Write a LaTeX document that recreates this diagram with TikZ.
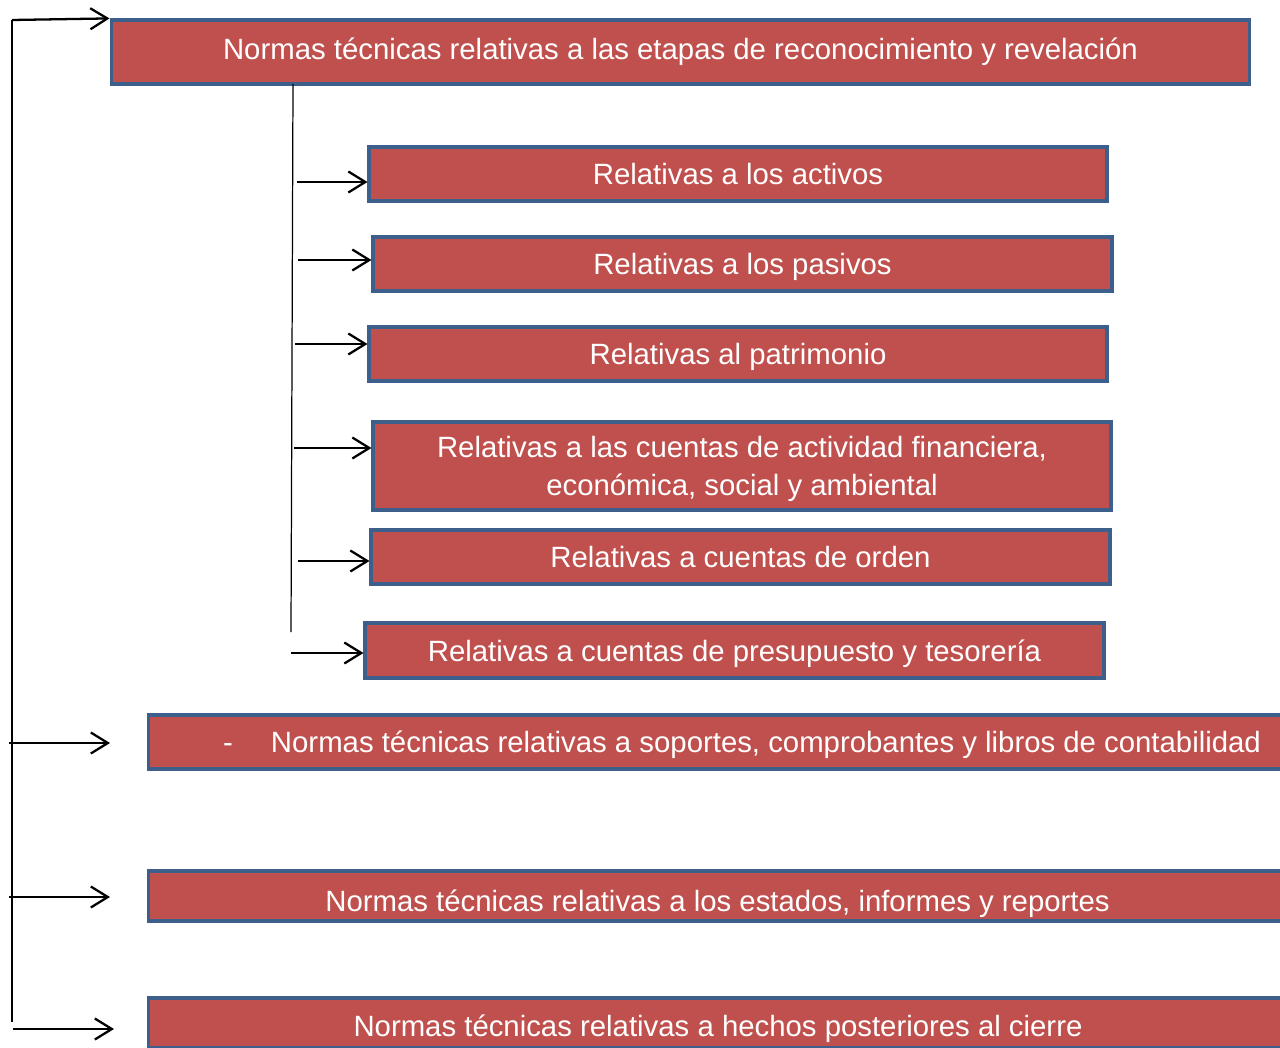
\documentclass[tikz,border=0pt]{standalone}
\usepackage{fontspec}
\setmainfont{Liberation Sans}
\usepackage{xcolor}
\usetikzlibrary{arrows.meta,positioning}

\definecolor{boxred}{HTML}{C0504D}
\definecolor{boxline}{HTML}{3C5F8C}

\begin{document}
\begin{tikzpicture}[
    x=0.02cm, y=-0.02cm,
    rbox/.style={rectangle, draw=boxline, fill=boxred, line width=1.8pt, text=white, align=center, inner sep=0pt, minimum height=1.08cm, font=\fontsize{16.7}{22}\selectfont},
    low/.style={text depth=0pt},
    arrow/.style={-{Straight Barb[length=0.34cm, width=0.42cm]}, line width=1.3pt},
    trunk/.style={line width=0.7pt},
  ]
  \useasboundingbox (0,0) rectangle (1280,1047);
  \clip (0,0) rectangle (1280,1047);

  % Reconocimiento y revelacion
  \node[rbox, minimum width=22.78cm, minimum height=1.28cm] (norm) at (680.5,52) {Normas técnicas relativas a las etapas de reconocimiento y revelación};

  % Sub-normas
  \node[rbox, low, minimum width=14.76cm] (act) at (738,174) {Relativas a los activos};
  \node[rbox, low, minimum width=14.78cm] (pas) at (742.5,264) {Relativas a los pasivos};
  \node[rbox, low, minimum width=14.76cm] (pat) at (738,354) {Relativas al patrimonio};
  \node[rbox, low, minimum width=14.76cm, minimum height=1.76cm] (fin) at (742,466) {Relativas a las cuentas de actividad financiera,\\económica, social y ambiental};
  \node[rbox, low, minimum width=14.78cm] (ord) at (740.5,557) {Relativas a cuentas de orden};
  \node[rbox, low, minimum width=14.78cm, minimum height=1.10cm] (pre) at (734.5,650.5) {Relativas a cuentas de presupuesto y tesorería};

  % Otras normas
  \node[rbox, low, minimum width=23.76cm] (sop) at (742,742) {-\hspace{1.3em}Normas técnicas relativas a soportes, comprobantes y libros de contabilidad};
  \node[rbox, low, text height=0.6cm, minimum width=22.78cm, minimum height=1.0cm] (est) at (717.5,896) {Normas técnicas relativas a los estados, informes y reportes};
  \node[rbox, low, text height=0.52cm, minimum width=22.8cm, minimum height=1.0cm] (hec) at (718,1023) {Normas técnicas relativas a hechos posteriores al cierre};

  % Outer line
  \coordinate (otop) at (12,20);
  \coordinate (obot) at (12,1022);
  \draw[trunk] (obot) -- (otop);
  \draw[arrow] (otop) -- (norm.north west);
  \coordinate (o1) at (9,743);
  \coordinate (o2) at (9,897);
  \coordinate (o3) at (13,1029);
  \draw[arrow] (o1) -- ++(101,0);
  \draw[arrow] (o2) -- ++(101,0);
  \draw[arrow] (o3) -- ++(101,0);

  % Inner line
  \coordinate (itop) at (293,84);
  \coordinate (ibot) at (291,632);
  \draw[trunk] (itop) -- (ibot);
  \coordinate (i1) at (297,182);
  \coordinate (i2) at (298,260);
  \coordinate (i3) at (295,344);
  \coordinate (i4) at (294,448);
  \coordinate (i5) at (298,561);
  \coordinate (i6) at (291,653);
  \draw[arrow] (i1) -- (i1 -| act.west);
  \draw[arrow] (i2) -- (i2 -| pas.west);
  \draw[arrow] (i3) -- (i3 -| pat.west);
  \draw[arrow] (i4) -- (i4 -| fin.west);
  \draw[arrow] (i5) -- (i5 -| ord.west);
  \draw[arrow] (i6) -- (i6 -| pre.west);
\end{tikzpicture}
\end{document}
